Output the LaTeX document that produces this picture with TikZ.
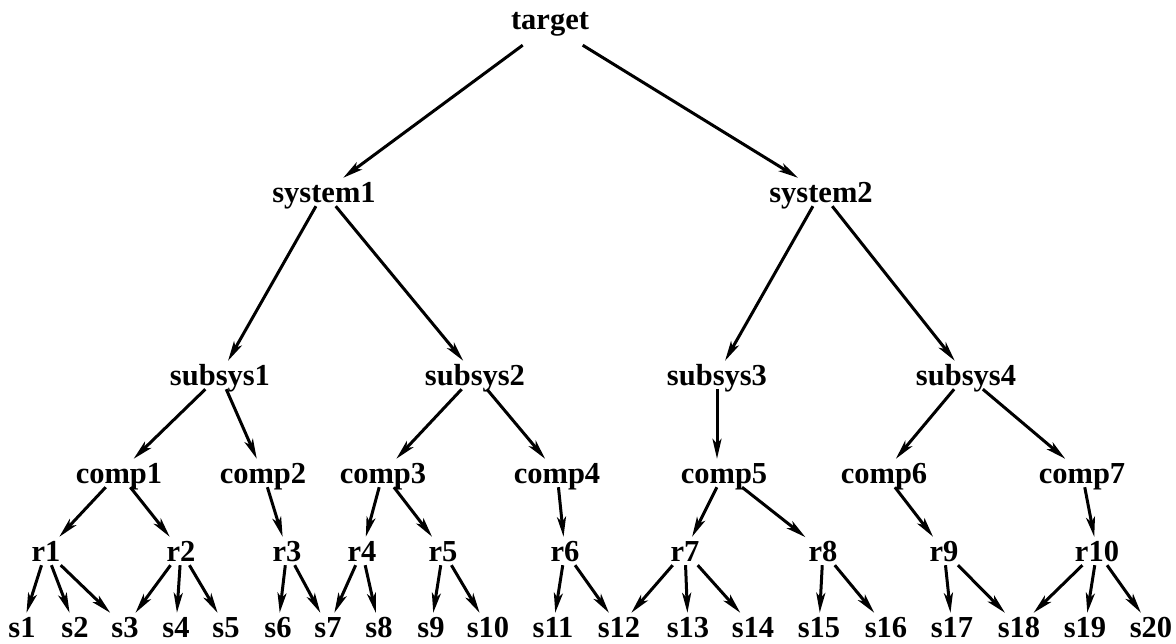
\documentclass[tikz,border=0pt]{standalone}
\usepackage{fontspec}
\setmainfont{Liberation Serif}
\usetikzlibrary{arrows.meta}
\begin{document}
\begin{tikzpicture}[x=1pt,y=-1pt,
  lbl/.style={font=\fontsize{30.5}{30.5}\selectfont\bfseries, anchor=base, inner xsep=3pt, inner ysep=4pt, text height=20pt, text depth=0pt},
  arr/.style={-{Stealth[length=20pt,width=9pt,inset=5pt]}, line width=3pt}]
\useasboundingbox (0,0) rectangle (1176,643);
% level 0
\node[lbl, text depth=12pt] (target) at (550,29) {target};
% level 1
\node[lbl] (system1) at (324,202) {system1};
\node[lbl] (system2) at (821,202) {system2};
% level 2
\node[lbl] (subsys1) at (220,385) {subsys1};
\node[lbl] (subsys2) at (475,385) {subsys2};
\node[lbl] (subsys3) at (717,385) {subsys3};
\node[lbl] (subsys4) at (966,385) {subsys4};
% level 3
\node[lbl] (comp1) at (119,483) {comp1};
\node[lbl] (comp2) at (263,483) {comp2};
\node[lbl] (comp3) at (383,483) {comp3};
\node[lbl] (comp4) at (557,483) {comp4};
\node[lbl] (comp5) at (724,483) {comp5};
\node[lbl] (comp6) at (884,483) {comp6};
\node[lbl] (comp7) at (1082,483) {comp7};
% level 4
\node[lbl] (r1) at (46,561) {r1};
\node[lbl] (r2) at (181,561) {r2};
\node[lbl] (r3) at (287,561) {r3};
\node[lbl] (r4) at (362,561) {r4};
\node[lbl] (r5) at (443,561) {r5};
\node[lbl] (r6) at (565,561) {r6};
\node[lbl] (r7) at (685,561) {r7};
\node[lbl] (r8) at (823,561) {r8};
\node[lbl] (r9) at (944,561) {r9};
\node[lbl] (r10) at (1097,561) {r10};
% level 5
\node[lbl] (s1) at (22,637) {s1};
\node[lbl] (s2) at (75,637) {s2};
\node[lbl] (s3) at (125,637) {s3};
\node[lbl] (s4) at (176,637) {s4};
\node[lbl] (s5) at (226,637) {s5};
\node[lbl] (s6) at (278,637) {s6};
\node[lbl] (s7) at (328,637) {s7};
\node[lbl] (s8) at (379,637) {s8};
\node[lbl] (s9) at (431,637) {s9};
\node[lbl] (s10) at (488,637) {s10};
\node[lbl] (s11) at (553,637) {s11};
\node[lbl] (s12) at (619,637) {s12};
\node[lbl] (s13) at (688,637) {s13};
\node[lbl] (s14) at (753,637) {s14};
\node[lbl] (s15) at (819,637) {s15};
\node[lbl] (s16) at (886,637) {s16};
\node[lbl] (s17) at (952,637) {s17};
\node[lbl] (s18) at (1019,637) {s18};
\node[lbl] (s19) at (1085,637) {s19};
\node[lbl] (s20) at (1151,637) {s20};
% edges
\draw[arr] (target) -- (system1);
\draw[arr] (target) -- (system2);
\draw[arr] (system1) -- (subsys1);
\draw[arr] (system1) -- (subsys2);
\draw[arr] (system2) -- (subsys3);
\draw[arr] (system2) -- (subsys4);
\draw[arr] (subsys1) -- (comp1);
\draw[arr] (subsys1) -- (comp2);
\draw[arr] (subsys2) -- (comp3);
\draw[arr] (subsys2) -- (comp4);
\draw[arr] (subsys3.south) -- (subsys3.south |- comp5.north);
\draw[arr] (subsys4) -- (comp6);
\draw[arr] (subsys4) -- (comp7);
\draw[arr] (comp1) -- (r1);
\draw[arr] (comp1) -- (r2);
\draw[arr] (comp2) -- (r3);
\draw[arr] (comp3) -- (r4);
\draw[arr] (comp3) -- (r5);
\draw[arr] (comp4) -- (r6);
\draw[arr] (comp5) -- (r7);
\draw[arr] (comp5) -- (r8);
\draw[arr] (comp6) -- (r9);
\draw[arr] (comp7) -- (r10);
\draw[arr] (r1) -- (s1);
\draw[arr] (r1) -- (s2);
\draw[arr] (r1) -- (s3);
\draw[arr] (r2) -- (s3);
\draw[arr] (r2) -- (s4);
\draw[arr] (r2) -- (s5);
\draw[arr] (r3) -- (s6);
\draw[arr] (r3) -- (s7);
\draw[arr] (r4) -- (s7);
\draw[arr] (r4) -- (s8);
\draw[arr] (r5) -- (s9);
\draw[arr] (r5) -- (s10);
\draw[arr] (r6) -- (s11);
\draw[arr] (r6) -- (s12);
\draw[arr] (r7) -- (s12);
\draw[arr] (r7) -- (s13);
\draw[arr] (r7) -- (s14);
\draw[arr] (r8) -- (s15);
\draw[arr] (r8) -- (s16);
\draw[arr] (r9) -- (s17);
\draw[arr] (r9) -- (s18);
\draw[arr] (r10) -- (s18);
\draw[arr] (r10) -- (s19);
\draw[arr] (r10) -- (s20);
\end{tikzpicture}
\end{document}
